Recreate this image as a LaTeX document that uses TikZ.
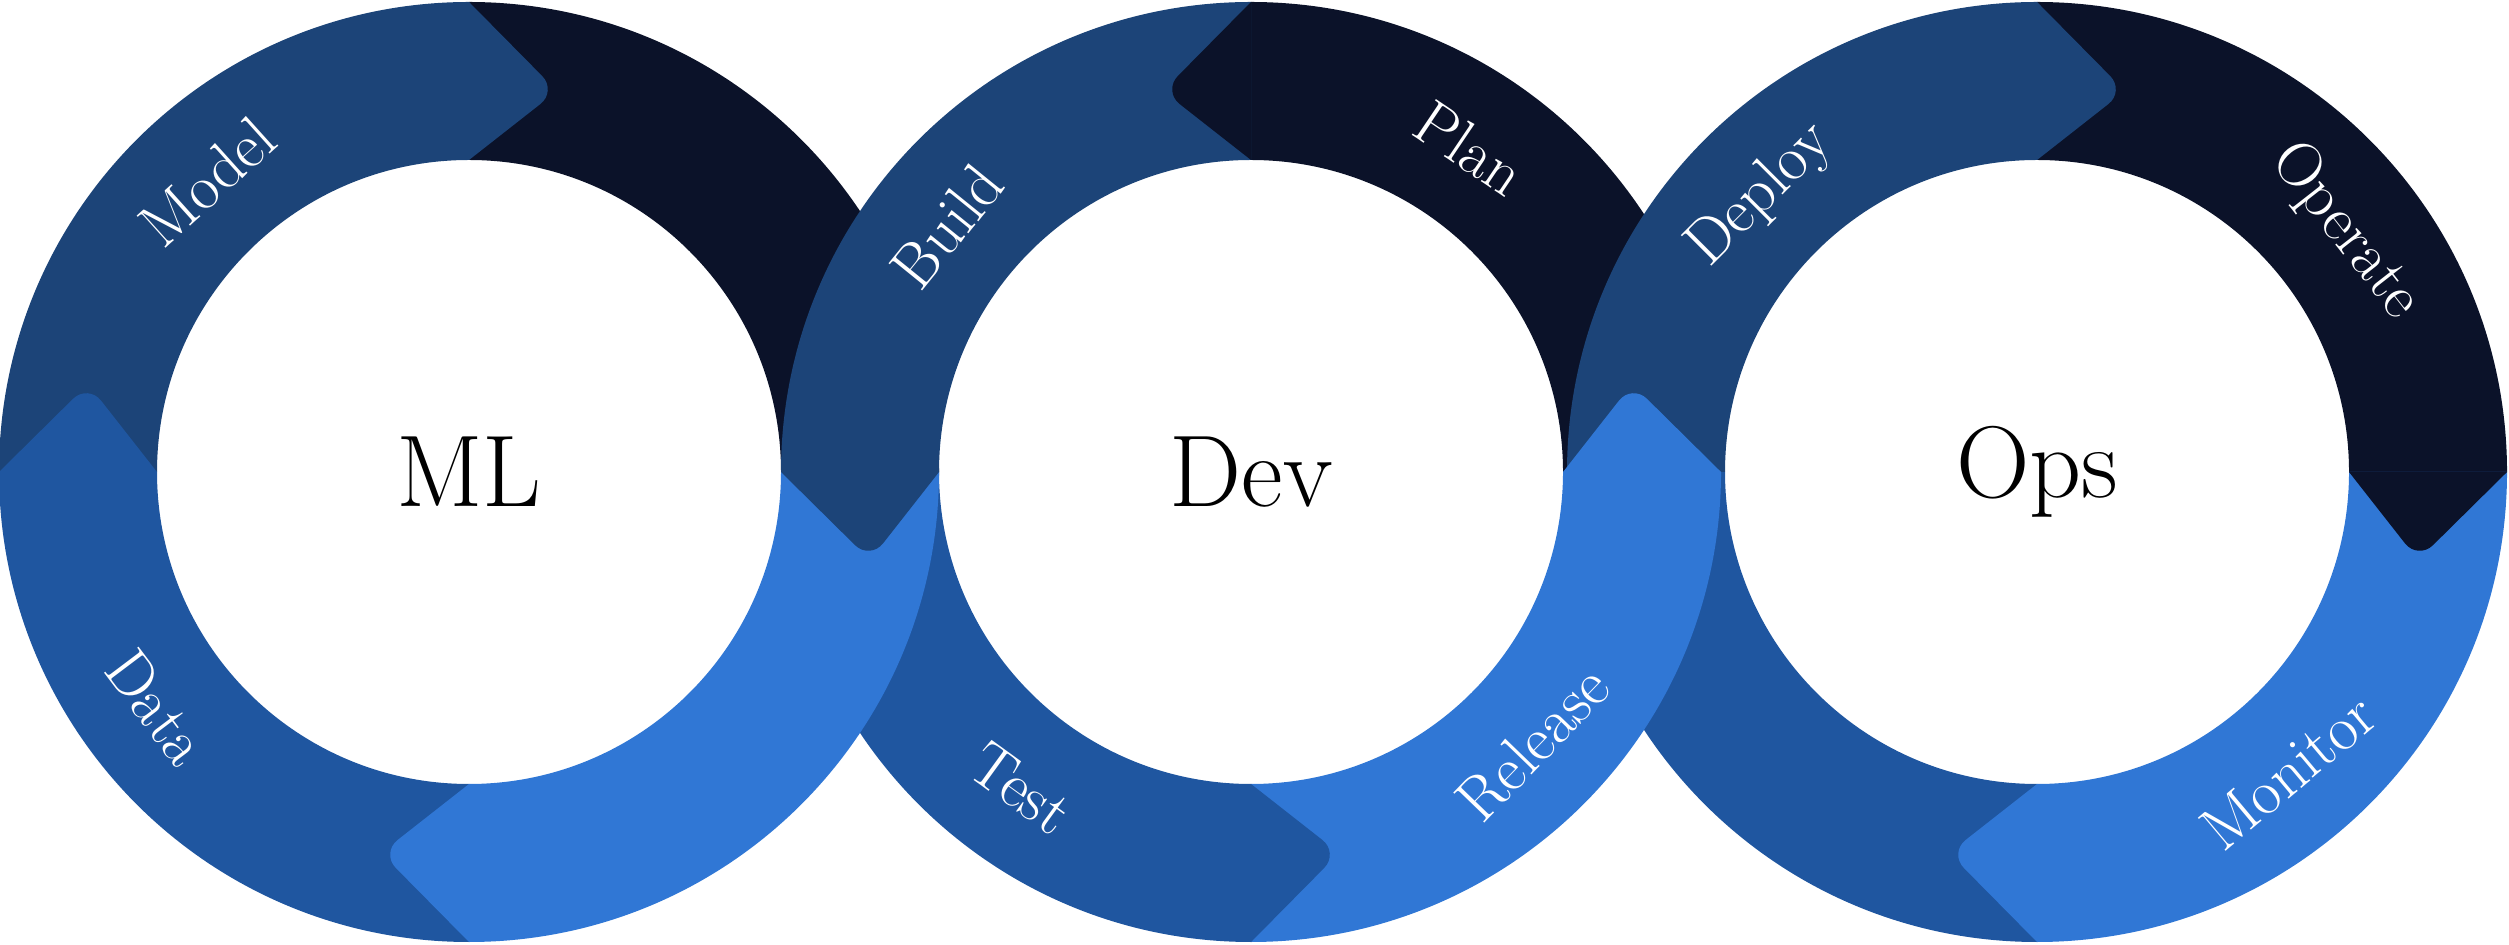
\documentclass[tikz,border=0pt]{standalone}
\usetikzlibrary{positioning}
\definecolor{navy1}{HTML}{0B1229}
\definecolor{steel1}{HTML}{1C4478}
\definecolor{cobalt1}{HTML}{1F56A0}
\definecolor{sky1}{HTML}{3077D5}
\newcommand{\Ro}{4.70}
\newcommand{\Ri}{3.12}
\newcommand{\Rm}{3.91}
% ring sector: centre x, from angle, to angle, colour
\newcommand{\ringseg}[4]{%
  \fill[#4, shift={(#1,4.72)}] (#2:\Ro) arc[start angle=#2, end angle=#3, radius=\Ro]
    -- (#3:\Ri) arc[start angle=#3, end angle=#2, radius=\Ri] -- cycle;}
% arrow tip: centre x, edge angle, tip angle, colour
\newcommand{\ringtip}[4]{%
  \fill[#4, shift={(#1,4.72)}] (#2:\Ro) [rounded corners=6pt] -- (#3:\Rm) [sharp corners] -- (#2:\Ri) -- cycle;}
\tikzset{
  seglabel/.style={text=white, font=\fontsize{18}{21}\selectfont},
  hublabel/.style={text=black, font=\fontsize{29}{33}\selectfont}
}

\begin{document}
\begin{tikzpicture}
  \useasboundingbox (0,0) rectangle (25.09,9.44);

  % lower layer: top-right and bottom-left quarters
  \foreach \cx in {4.69, 12.51, 20.37} {
    \ringseg{\cx}{0}{90}{navy1}
    \ringseg{\cx}{180}{270}{cobalt1}
  }
  % upper layer: top-left and bottom-right quarters
  \foreach \cx in {4.69, 12.51, 20.37} {
    \ringseg{\cx}{90}{180}{steel1}
    \ringseg{\cx}{270}{360}{sky1}
  }

  % clockwise tips (ML, Ops)
  \foreach \cx in {4.69, 20.37} {
    \ringtip{\cx}{90}{77}{steel1}
    \ringtip{\cx}{270}{257}{sky1}
  }
  \ringtip{4.69}{180}{167}{cobalt1}
  \ringtip{20.37}{0}{-13}{navy1}
  % counter-clockwise tips (Dev)
  \ringtip{12.51}{90}{103}{navy1}
  \ringtip{12.51}{270}{283}{cobalt1}
  \ringtip{12.51}{180}{193}{steel1}
  \ringtip{12.51}{360}{373}{sky1}

  % hubs
  \node[hublabel] (ml) at (4.69,4.72) {ML};
  \node[hublabel] (dev) at (12.51,4.72) {Dev};
  \node[hublabel] (ops) at (20.37,4.72) {Ops};

  % stage labels
  \node[seglabel, rotate=42] (model) at ([shift={(132:\Rm)}]ml) {Model};
  \node[seglabel, rotate=-53] (data) at ([shift={(217:\Rm)}]ml) {Data};
  \node[seglabel, rotate=51] (build) at ([shift={(141:\Rm)}]dev) {Build};
  \node[seglabel, rotate=-34] (plan) at ([shift={(56:\Rm)}]dev) {Plan};
  \node[seglabel, rotate=-36] (test) at ([shift={(234:\Rm)}]dev) {Test};
  \node[seglabel, rotate=46] (release) at ([shift={(-44:\Rm)}]dev) {Release};
  \node[seglabel, rotate=45] (deploy) at ([shift={(135:\Rm)}]ops) {Deploy};
  \node[seglabel, rotate=-52] (operate) at ([shift={(38:\Rm)}]ops) {Operate};
  \node[seglabel, rotate=40] (monitor) at ([shift={(-50:\Rm)}]ops) {Monitor};
\end{tikzpicture}
\end{document}
